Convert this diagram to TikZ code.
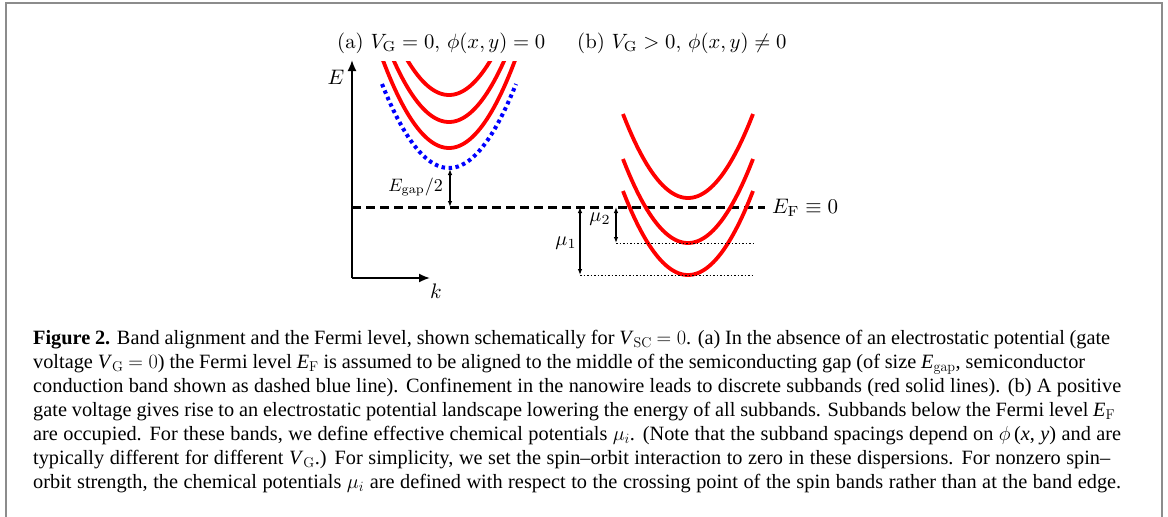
\RequirePackage{fix-cm}
\documentclass[tikz,border=0pt]{standalone}
\usepackage{fontspec}
\usepackage{amsmath}
\newfontfamily\capfont[Ligatures=TeX]{Liberation Serif}
\usetikzlibrary{arrows.meta}
\begin{document}
\begin{tikzpicture}[x=1pt,y=-1pt,
  band/.style={red, line width=3.8pt},
  cband/.style={blue, line width=4pt, dash pattern=on 3.5pt off 3.5pt},
  fermi/.style={line width=3pt, dash pattern=on 9pt off 5pt},
  axis/.style={line width=1.8pt, -{Latex[length=11pt,width=9pt]}},
  dbl/.style={line width=1.1pt, {Latex[length=6pt,width=4.5pt]}-{Latex[length=6pt,width=4.5pt]}},
  level/.style={line width=1pt, dash pattern=on 1.5pt off 2pt},
  lab/.style={inner sep=0pt},
  ttl/.style={inner sep=0pt, anchor=base west},
  capline/.style={anchor=base west, inner sep=0pt, font=\capfont\fontsize{20.3}{24}\selectfont},
  frame/.style={draw={rgb,255:red,140;green,140;blue,140}, line width=2pt}
]
\useasboundingbox (0,0) rectangle (1168,517);
\draw[frame] (6,518) -- (6,3) -- (1162,3) -- (1162,518);

% titles
\node[ttl] (ta) at (337,48) {\scalebox{2.07}{(a) $V_{\mathrm G}=0,\, \phi(x,y)=0$}};
\node[ttl] (tb) at (577,48) {\scalebox{2.07}{(b) $V_{\mathrm G}>0,\, \phi(x,y)\neq 0$}};

% axes
\coordinate (O) at (352,278);
\coordinate (Etip) at (352,60);
\coordinate (ktip) at (430,278);
\draw[axis] (O) -- (Etip);
\draw[axis] (O) -- (ktip);
\node[lab] (E) at (336,77) {\scalebox{2.1}{$E$}};
\node[lab] (k) at (436,291) {\scalebox{2.1}{$k$}};

% Fermi level
\coordinate (F0) at (352,207);
\coordinate (F1) at (765,207);
\draw[fermi] (F0) -- (F1);
\node[lab, anchor=west] (EF) at (772,208) {\scalebox{2.1}{$E_{\mathrm F}\equiv 0$}};

% panel (a)
\begin{scope}
  \clip (300,61) rectangle (600,300);
  \foreach \m in {95,122,148}
    \draw[band] plot[domain=-68:68, samples=60] ({449+\x},{\m-85*(\x/65)^2});
\end{scope}
\draw[cband] plot[domain=-67:67, samples=80] ({449+\x},{168-84*(\x/67)^2});

\coordinate (gb) at (450,169);
\coordinate (gf) at (450,207);
\draw[dbl] (gb) -- (gf);
\node[lab, anchor=east] (Eg) at (443,187) {\scalebox{1.8}{$E_{\mathrm{gap}}/2$}};

% panel (b)
\foreach \m in {198,243,275}
  \draw[band] plot[domain=-65:65, samples=60] ({688+\x},{\m-84*(\x/65)^2});

\coordinate (m1t) at (580,207);
\coordinate (m1b) at (580,275);
\coordinate (m2t) at (616,207);
\coordinate (m2b) at (616,243);
\coordinate (l1e) at (755,275);
\coordinate (l2e) at (755,243);
\draw[level] (m1b) -- (l1e);
\draw[level] (m2b) -- (l2e);
\draw[dbl] (m1t) -- (m1b);
\draw[dbl] (m2t) -- (m2b);
\node[lab] (mu1) at (566,243) {\scalebox{2}{$\mu_1$}};
\node[lab] (mu2) at (600,219) {\scalebox{2}{$\mu_2$}};

% caption
\node[capline] (c1) at (33,344) {\hbox to 1077pt{\textbf{Figure 2.} Band alignment and the Fermi level, shown schematically for \textit{V}$_{\textrm{SC}}$ $=0$. (a) In the absence of an electrostatic potential (gate}};
\node[capline] (c2) at (33,368) {\hbox to 1052pt{voltage \textit{V}$_{\textrm{G}}$ $=0$) the Fermi level \textit{E}$_{\textrm{F}}$ is assumed to be aligned to the middle of the semiconducting gap (of size \textit{E}$_{\textrm{gap}}$, semiconductor}};
\node[capline] (c3) at (33,392) {\hbox to 1088pt{conduction band shown as dashed blue line). Confinement in the nanowire leads to discrete subbands (red solid lines). (b) A positive}};
\node[capline] (c4) at (33,416) {\hbox to 1082pt{gate voltage gives rise to an electrostatic potential landscape lowering the energy of all subbands. Subbands below the Fermi level \textit{E}$_{\textrm{F}}$}};
\node[capline] (c5) at (33,440) {\hbox to 1088pt{are occupied. For these bands, we define effective chemical potentials $\mu_i$. (Note that the subband spacings depend on $\phi\,$(\textit{x}, \textit{y}) and are}};
\node[capline] (c6) at (33,464) {\hbox to 1077pt{typically different for different \textit{V}$_{\textrm{G}}$.) For simplicity, we set the spin\textendash orbit interaction to zero in these dispersions. For nonzero spin\textendash}};
\node[capline] (c7) at (33,488) {\hbox to 1088pt{orbit strength, the chemical potentials $\mu_i$ are defined with respect to the crossing point of the spin bands rather than at the band edge.}};
\end{tikzpicture}
\end{document}
